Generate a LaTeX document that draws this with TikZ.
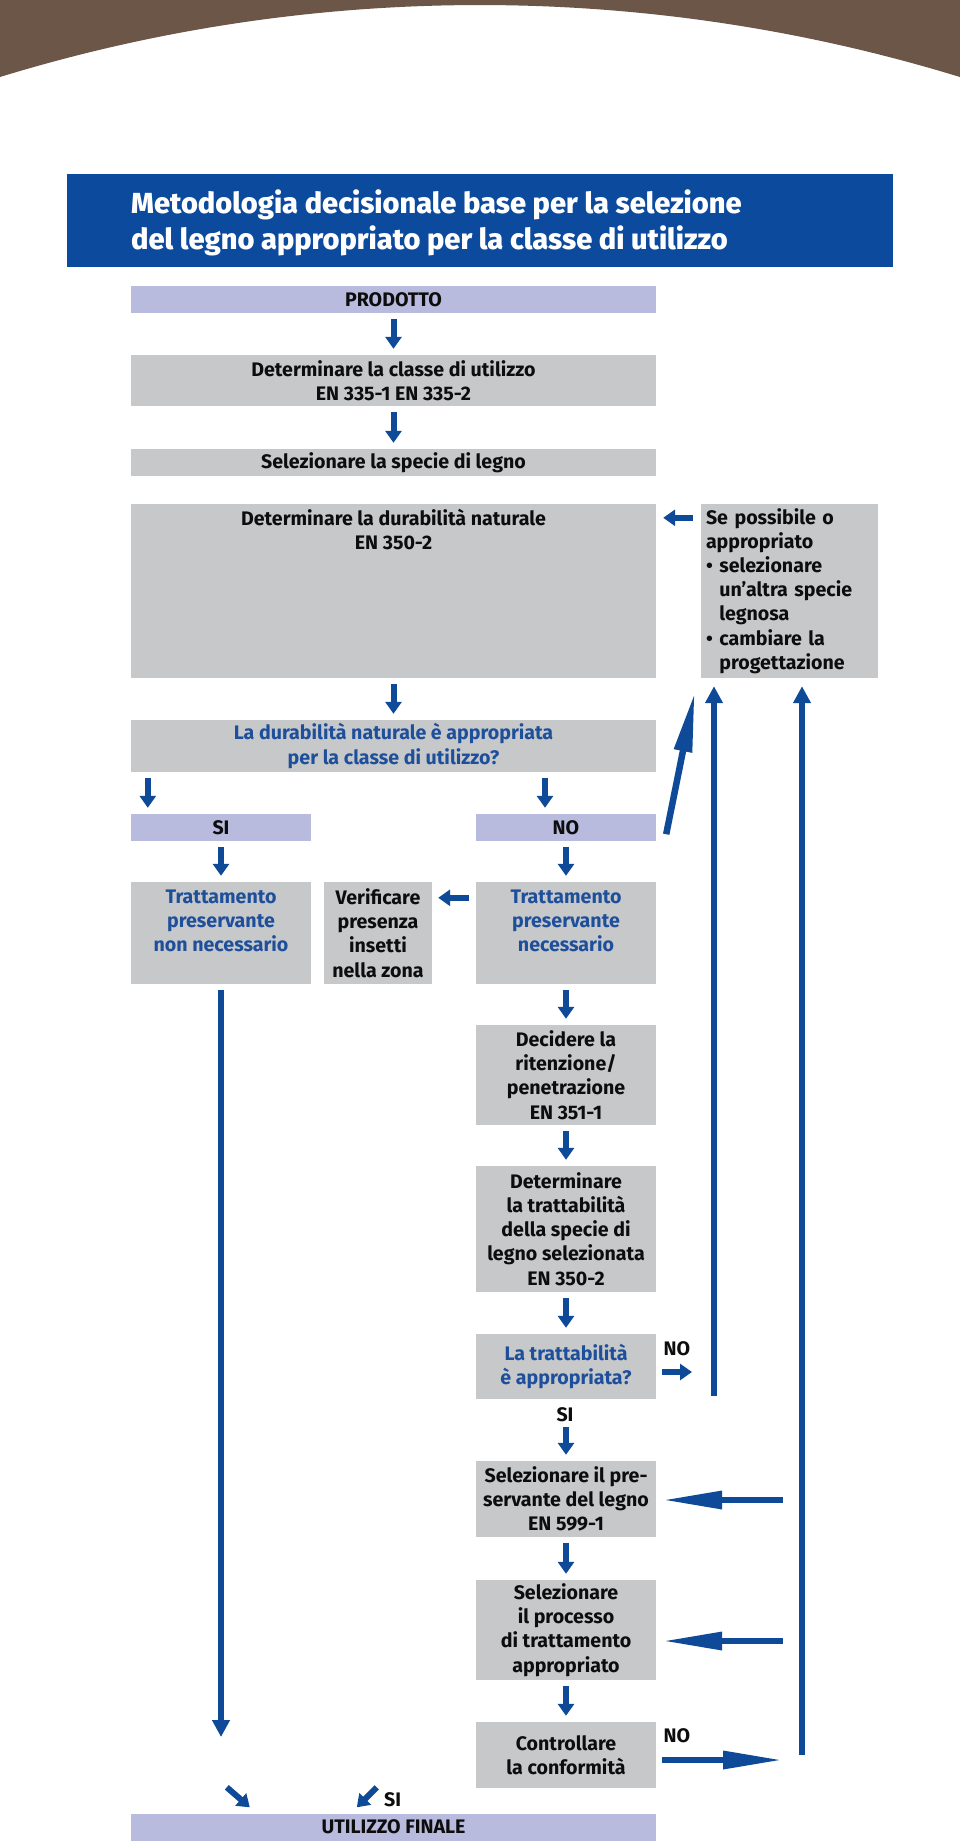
\documentclass[tikz,border=0pt]{standalone}
\usepackage{fontspec}
\setmainfont{Fira Sans}
\newfontfamily\titlefont{Fira Sans ExtraBold}
\usepackage{tikz}
\usetikzlibrary{arrows.meta,positioning}
\definecolor{woodbrown}{HTML}{6B5648}
\definecolor{titleblue}{HTML}{0B4A9C}
\definecolor{arrowblue}{HTML}{0E4A98}
\definecolor{textblue}{HTML}{1E4F9B}
\definecolor{boxgray}{HTML}{C7C8CA}
\definecolor{lavender}{HTML}{B8BBDE}

\begin{document}
\begin{tikzpicture}[x=1pt,y=-1pt,
		every node/.style={font=\fontsize{19.6}{24.2}\selectfont\bfseries, text=black!95, inner sep=0pt},
		graybox/.style={fill=boxgray, minimum width=180pt, align=center},
		widebox/.style={graybox, minimum width=525pt},
		headbox/.style={fill=lavender, minimum width=525pt, minimum height=27pt},
		asktext/.style={text=textblue},
		arr/.style={draw=arrowblue, line width=6pt, -{Triangle[width=16pt,length=12pt]}, shorten <=6pt, shorten >=6pt},
		longarr/.style={draw=arrowblue, line width=6.5pt, -{Triangle[width=17pt,length=17pt]}},
		bigarr/.style={draw=arrowblue, line width=6.5pt, -{Triangle[width=17pt,length=60pt]}}]
	\useasboundingbox (0,0) rectangle (960,1848);
	\fill[white] (0,0) rectangle (960,1848);
	% top band
	\fill[woodbrown] (0,0) -- (0,77) arc[start angle=107.06, end angle=72.94, radius=1636pt] -- (960,0) -- cycle;
	% title
	\fill[titleblue] (67,174) rectangle (893,267);
	\node[anchor=west, align=left, text=white, font=\titlefont\fontsize{29}{36.5}\selectfont] (title) at (131,223)
		{Metodologia decisionale base per la selezione\\del legno appropriato per la classe di utilizzo};
	% main column
	\node[headbox] (prod) at (393.5,299.5) {PRODOTTO};
	\node[widebox, minimum height=51pt] (classe) at (393.5,380.5) {Determinare la classe di utilizzo\\EN 335-1 EN 335-2};
	\node[widebox, minimum height=27pt] (specie) at (393.5,462.5) {Selezionare la specie di legno};
	\node[widebox, minimum height=174pt, label={[anchor=north, align=center, yshift=-5pt]north:{Determinare la durabilità naturale\\EN 350-2}}] (durab) at (393.5,591) {};
	\node[widebox, asktext, minimum height=52pt] (domanda) at (393.5,746) {La durabilità naturale è appropriata\\per la classe di utilizzo?};
	\node[headbox, minimum width=180pt] (si) at (221,827.5) {SI};
	\node[headbox, minimum width=180pt] (no) at (566,827.5) {NO};
	\node[graybox, asktext, minimum height=102pt] (trattno) at (221,933) {Trattamento\\preservante\\non necessario\\\mbox{}};
	\node[graybox, minimum width=108pt, minimum height=102pt] (verif) at (378,933) {Verificare\\presenza\\insetti\\nella zona};
	\node[graybox, asktext, minimum height=102pt] (trattsi) at (566,933) {Trattamento\\preservante\\necessario\\\mbox{}};
	\node[graybox, minimum height=100pt] (riten) at (566,1075) {Decidere la\\ritenzione/\\penetrazione\\EN 351-1};
	\node[graybox, minimum height=126pt] (trattab) at (566,1229) {Determinare\\la trattabilità\\della specie di\\legno selezionata\\EN 350-2};
	\node[graybox, asktext, minimum height=65pt] (dom2) at (566,1366.5) {La trattabilità\\è appropriata?};
	\node[graybox, minimum height=76pt] (sel1) at (566,1499) {Selezionare il pre-\\servante del legno\\EN 599-1};
	\node[graybox, minimum height=100pt] (sel2) at (566,1630) {Selezionare\\il processo\\di trattamento\\appropriato};
	\node[graybox, minimum height=66pt] (contr) at (566,1755) {Controllare\\la conformità};
	\node[headbox] (finale) at (393.5,1827) {UTILIZZO FINALE};
	% side box
	\node[graybox, minimum width=177pt, minimum height=174pt, text width=167pt, align=left] (altern) at (789.5,591)
		{Se possibile o\\appropriato\\\textbullet\ selezionare\\\phantom{\textbullet\ }un’altra specie\\\phantom{\textbullet\ }legnosa\\\textbullet\ cambiare la\\\phantom{\textbullet\ }progettazione};
	% labels
	\node (no1) at (677,1349) {NO};
	\node (si1) at (565,1415) {SI};
	\node (no2) at (677,1736) {NO};
	\node[anchor=west] (si2) at (384,1800) {SI};
	\coordinate (loopA) at (714,1396);
	\coordinate (loopB) at (802,1755);
	\coordinate (ret1) at (783,1500);
	\coordinate (ret2) at (783,1641);
	\coordinate (leftend) at (220,1737);
	% short arrows
	\draw[arr] (prod) -- (classe);
	\draw[arr] (classe) -- (specie);
	\draw[arr] (durab) -- (domanda);
	\draw[arr] ([xshift=17pt]domanda.south west) -- ([xshift=17pt]si.north west);
	\draw[arr] ([xshift=-21pt]no.north |- domanda.south) -- ([xshift=-21pt]no.north);
	\draw[arr] (si) -- (trattno);
	\draw[arr] (no) -- (trattsi);
	\draw[arr, shorten <=7pt] ([yshift=-16pt]trattsi.north west) -- ([yshift=-16pt]verif.north east);
	\draw[arr] (trattsi) -- (riten);
	\draw[arr] (riten) -- (trattab);
	\draw[arr] (trattab) -- (dom2);
	\draw[arr, shorten <=28pt] (dom2) -- (sel1);
	\draw[arr] (sel1) -- (sel2);
	\draw[arr] (sel2) -- (contr);
	\draw[arr, shorten >=22pt] ([yshift=-5.5pt]dom2.east) -- ([yshift=-5.5pt]dom2.east -| loopA);
	\draw[arr, shorten <=8pt, shorten >=7pt] ([yshift=-14pt]altern.north west) -- ([yshift=-14pt]durab.north east);
	\draw[arr, shorten <=0pt, shorten >=0pt] ([shift={(96,-26)}]finale.north west) -- ([shift={(119,-6)}]finale.north west);
	\draw[arr, shorten <=0pt, shorten >=0pt] ([shift={(246,-26)}]finale.north west) -- ([shift={(226,-6)}]finale.north west);
	% long arrows
	\draw[longarr, shorten <=6pt] (trattno.south) -- (trattno.south |- leftend);
	\draw[longarr, shorten >=8pt] (loopA) -- (loopA |- altern.south);
	\draw[longarr, shorten >=8pt] (loopB) -- (loopB |- altern.south);
	\draw[bigarr, shorten >=6pt] (ret1) -- (ret1 -| sel1.east);
	\draw[bigarr, shorten >=6pt] (ret2) -- (ret2 -| sel2.east);
	\draw[bigarr, shorten <=6pt, shorten >=19pt] ([yshift=-5pt]contr.east) -- ([yshift=-5pt]contr.east -| loopB);
	\draw[bigarr] ([xshift=10pt,yshift=7pt]no.south east) -- ([xshift=-6pt,yshift=-14pt]altern.south west);
\end{tikzpicture}
\end{document}
